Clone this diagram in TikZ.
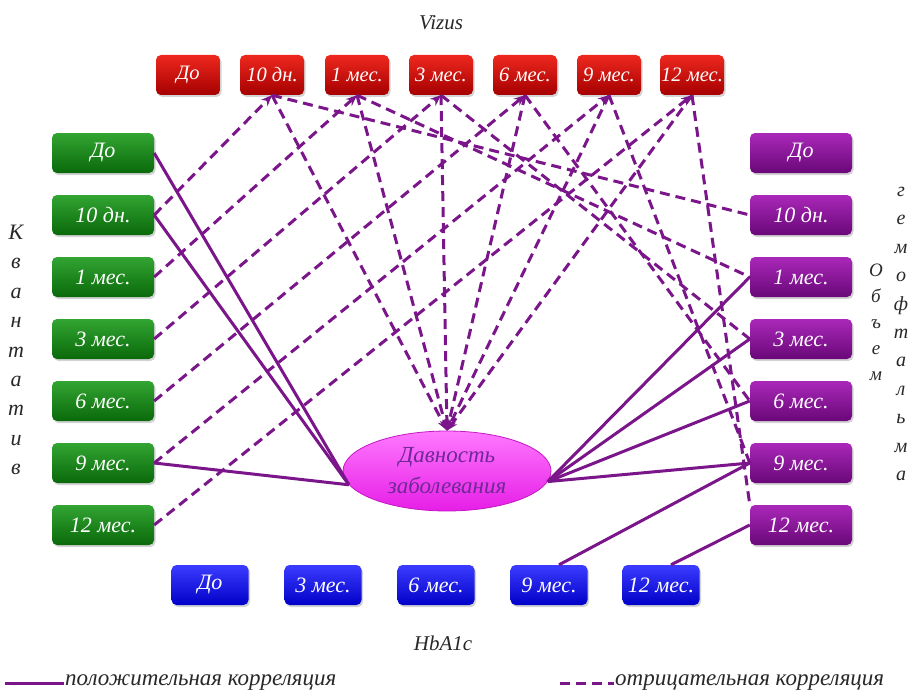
\documentclass[tikz,border=0pt]{standalone}
\usepackage{fontspec}
\setmainfont{Liberation Serif}
\usetikzlibrary{shapes, calc, positioning, shadows, arrows.meta}
\definecolor{corr}{RGB}{122,22,138}
\definecolor{vizhi}{RGB}{238,40,30}
\definecolor{vizlo}{RGB}{165,0,0}
\definecolor{kvhi}{RGB}{50,165,50}
\definecolor{kvlo}{RGB}{10,105,10}
\definecolor{obhi}{RGB}{170,40,185}
\definecolor{oblo}{RGB}{105,8,120}
\definecolor{hbhi}{RGB}{60,60,255}
\definecolor{hblo}{RGB}{0,0,200}
\definecolor{davhi}{RGB}{255,120,255}
\definecolor{davlo}{RGB}{230,30,230}
\definecolor{davtxt}{RGB}{112,40,150}
\definecolor{lettr}{RGB}{40,40,40}
\tikzset{
 box/.style={rounded corners=5pt, minimum height=40pt, inner sep=0pt, text=white,
  font=\itshape\fontsize{22}{22}\selectfont,
  drop shadow={opacity=0.35, shadow xshift=1.5pt, shadow yshift=-2pt}},
 vizbox/.style={box, minimum width=64pt, top color=vizhi, bottom color=vizlo,
  font=\itshape\fontsize{20.5}{21}\selectfont},
 kvbox/.style={box, minimum width=102pt, top color=kvhi, bottom color=kvlo},
 obbox/.style={box, minimum width=102pt, top color=obhi, bottom color=oblo},
 hbbox/.style={box, minimum width=77pt, top color=hbhi, bottom color=hblo},
 dav/.style={ellipse, minimum width=208pt, minimum height=80pt, inner sep=0pt,
  top color=davhi, bottom color=davlo, draw=davlo!85!black, line width=0.8pt,
  text=davtxt, align=center, font=\itshape\fontsize{23}{31}\selectfont},
 axtitle/.style={font=\itshape\fontsize{21}{21}\selectfont, text=lettr},
 vlabel/.style={align=center, text=lettr, inner sep=0pt},
 legend/.style={font=\itshape\fontsize{23}{23}\selectfont, text=lettr, inner sep=1pt},
 posline/.style={draw=corr, line width=3pt},
 negline/.style={draw=corr, line width=3pt, dash pattern=on 10pt off 6pt},
 arrowtip/.style={-{Stealth[length=11pt,width=9pt]}}
}
\begin{document}
\begin{tikzpicture}[x=1pt, y=-1pt]
 \useasboundingbox (0,0) rectangle (911,693);
 \node[axtitle] (vizus) at (441,23) {Vizus};
 \node[axtitle] (hba) at (443,643) {HbA1c};
 \foreach \i/\x/\t in {0/188/До, 1/272/10 дн., 2/357/1 мес., 3/441/3 мес., 4/525/6 мес., 5/609/9 мес., 6/692/12 мес.}
  \node[vizbox] (v\i) at (\x,75) {\t};
 \foreach \i/\y/\t in {0/153/До, 1/215/10 дн., 2/277/1 мес., 3/339/3 мес., 4/401/6 мес., 5/463/9 мес., 6/525/12 мес.} {
  \node[kvbox] (k\i) at (103,\y) {\t};
  \node[obbox] (o\i) at (801,\y) {\t};
 }
 \foreach \i/\x/\t in {0/210/До, 1/323/3 мес., 2/436/6 мес., 3/549/9 мес., 4/661/12 мес.}
  \node[hbbox] (h\i) at (\x,585) {\t};
 \node[dav] (dav) at (447,471) {Давность\\заболевания};
 \node[vlabel, font=\itshape\fontsize{22}{29.4}\selectfont] (kvant) at (16,350) {К\\в\\а\\н\\т\\а\\т\\и\\в};
 \node[vlabel, font=\itshape\fontsize{19}{26}\selectfont] (obem) at (876,322) {О\\б\\ъ\\е\\м};
 \node[vlabel, font=\itshape\fontsize{20}{28.4}\selectfont] (gemo) at (901,334) {г\\е\\м\\о\\ф\\т\\а\\л\\ь\\м\\а};

 \foreach \i in {1,...,6} {
  \draw[negline, arrowtip] (k\i.east) -- (v\i.south);
  \draw[negline, arrowtip] (v\i.south) -- (dav.north);
 }
 \foreach \i in {1,...,5}
  \draw[negline] (v\i.south) -- (o\i.west);
 \draw[negline] (v6.south) -- (o6.north west);

 \draw[posline] (k0.east) -- (dav.188);
 \draw[posline] (k1.east) -- (dav.188);
 \draw[posline] (k5.east) -- (dav.188);
 \foreach \i in {2,...,5}
  \draw[posline] (o\i.west) -- (dav.-6);
 \coordinate (h3a) at ($(h3.north)+(10,0)$);
 \coordinate (h4a) at ($(h4.north)+(10,0)$);
 \draw[posline] (h3a) -- (o5.west);
 \draw[posline] (h4a) -- (o6.west);

 \node[legend, anchor=west] (leg1) at (64,683) {положительная корреляция};
 \coordinate (leg1a) at (5,683);
 \draw[posline] (leg1a) -- (leg1.west);
 \node[legend, anchor=west] (leg2) at (614,683) {отрицательная корреляция};
 \coordinate (leg2a) at (560,683);
 \draw[negline] (leg2a) -- (leg2.west);
\end{tikzpicture}
\end{document}
